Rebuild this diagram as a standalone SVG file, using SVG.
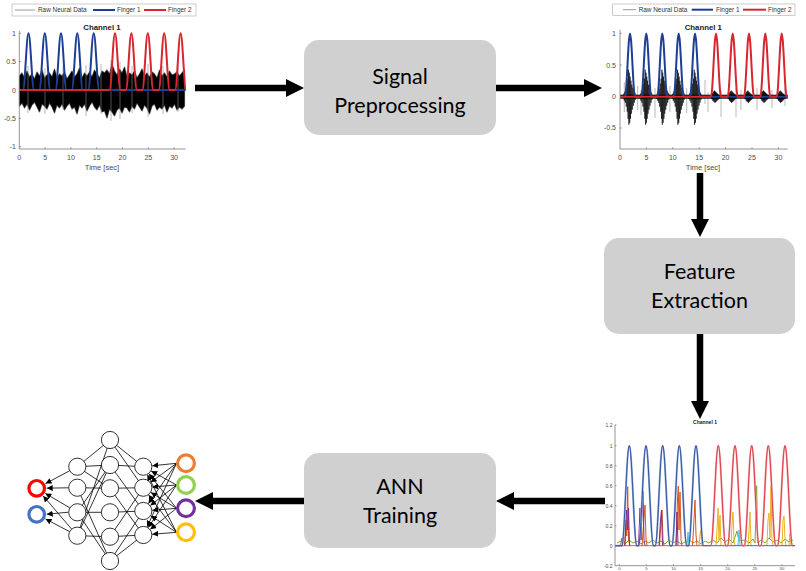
<svg xmlns="http://www.w3.org/2000/svg" width="806" height="571" viewBox="0 0 806 571">
<style>
.box{fill:#d0d0d0}
.bt{font-family:Lato,"Open Sans","Liberation Sans",sans-serif;font-size:21.5px;fill:#000;text-anchor:middle}
.ax{fill:none;stroke:#7a7a7a;stroke-width:0.8}
.tk{font-family:"Liberation Sans",Arial,sans-serif;font-size:7px;fill:#4d4d4d}
.tk3{font-family:"Liberation Sans",Arial,sans-serif;font-size:5px;fill:#4d4d4d}
.tl{font-family:"Liberation Sans",Arial,sans-serif;font-size:7.8px;font-weight:bold;fill:#1a1a1a;text-anchor:middle}
.lg{font-family:"Liberation Sans",Arial,sans-serif;font-size:6.4px;fill:#333}
.f1{fill:none;stroke:#1c3f94;stroke-width:2}
.f2{fill:none;stroke:#d7262e;stroke-width:2}
.gs{fill:none;stroke:#8a8a8a;stroke-width:0.6}
.arrow{stroke:#000;stroke-width:6.5;fill:none;marker-end:url(#ah)}
.nl{stroke:#000;stroke-width:0.8;fill:none}
.na{stroke:#000;stroke-width:0.8;fill:none;marker-end:url(#sa)}
.hn{fill:#fff;stroke:#000;stroke-width:0.8}
.io{fill:#fff;stroke-width:3.2}
</style>
<defs>
<marker id="ah" markerUnits="userSpaceOnUse" markerWidth="18" markerHeight="18" viewBox="0 0 18 18" refX="8" refY="9" orient="auto"><path d="M0,0 L18,9 L0,18 z" fill="#000"/></marker>
<marker id="sa" markerUnits="userSpaceOnUse" markerWidth="6" markerHeight="6" viewBox="0 0 6 6" refX="6" refY="3" orient="auto"><path d="M0,0 L6,3 L0,6 z" fill="#000"/></marker>
<path id="burst" fill="none" stroke="#000" stroke-width="0.6" d="M-7,0 L-6.5,-1.5 L-6,2 L-5.5,-3 L-5,4 L-4.5,-5 L-4,6 L-3.5,-8 L-3,10 L-2.5,-13 L-2,15 L-1.6,-18 L-1.2,22 L-0.8,-27 L-0.4,28 L0,-24 L0.4,26 L0.8,-20 L1.2,22 L1.6,-16 L2,17 L2.5,-12 L3,13 L3.5,-9 L4,9 L4.5,-6 L5,6 L5.5,-4 L6,3 L6.5,-2 L7,0"/>
<path id="burst2" fill="none" stroke="#000" stroke-width="0.8" d="M-5,0 L-4.5,-1 L-4,1.5 L-3.5,-2 L-3,2.5 L-2.5,-3.5 L-2,4 L-1.5,-5 L-1,5 L-0.5,-6 L0,6 L0.5,-5 L1,5 L1.5,-4 L2,4 L2.5,-3 L3,3 L3.5,-2 L4,2 L4.5,-1 L5,0"/>
</defs>
<rect width="806" height="571" fill="#fff"/>

<g id="plot-raw">
<rect x="12" y="4" width="184" height="12" fill="#fff" stroke="#aaa" stroke-width="0.6"/>
<line x1="15" y1="10" x2="35" y2="10" stroke="#999" stroke-width="1"/>
<text class="lg" x="38" y="12.3">Raw Neural Data</text>
<line x1="93" y1="10" x2="115" y2="10" class="f1"/>
<text class="lg" x="117" y="12.3">Finger 1</text>
<line x1="144" y1="10" x2="166" y2="10" class="f2"/>
<text class="lg" x="168" y="12.3">Finger 2</text>
<text class="tl" x="102" y="29.5">Channel 1</text>
<polygon fill="#000" stroke="#777" stroke-width="1.2" stroke-linejoin="round" style="paint-order:stroke" points="19.5,76 22,73 24.5,78 27,71 29.5,77 32,74 34.5,79 37,72 39.5,76 42,70 44.5,78 47,75 49.5,73 52,77 54.5,69 57,78 59.5,74 62,76 64.5,72 67,79 69.5,75 72,71 74.5,77 77,74 79.5,68 82,78 84.5,73 87,76 89.5,72 92,77 94.5,70 97,74 99.5,78 102,71 104.5,73 107,70 109.5,74 112,64 114.5,71 117,75 119.5,69 122,73 124.5,67 127,77 129.5,73 132,75 134.5,71 137,78 139.5,74 142,69 144.5,76 147,73 149.5,77 152,72 154.5,74 157,78 159.5,70 162,76 164.5,73 167,77 169.5,71 172,75 174.5,74 177,72 179.5,76 182,73 184.5,70 184.5,106 182,109 179.5,107 177,110 174.5,104 172,108 169.5,106 167,112 164.5,105 162,109 159.5,107 157,110 154.5,104 152,106 149.5,114 147,108 144.5,105 142,111 139.5,107 137,103 134.5,109 132,106 129.5,112 127,108 124.5,107 122,113 119.5,108 117,110 114.5,116 112,112 109.5,109 107,118 104.5,111 102,112 99.5,105 97,110 94.5,107 92,102 89.5,106 87,111 84.5,104 82,108 79.5,105 77,114 74.5,107 72,109 69.5,103 67,106 64.5,110 62,104 59.5,108 57,105 54.5,113 52,107 49.5,103 47,109 44.5,106 42,104 39.5,112 37,107 34.5,102 32,105 29.5,110 27,104 24.5,108 22,103 19.5,106"/>
<path class="gs" d="M28,66V113 M45,68V114 M63,67V110 M86,65V116 M101,64V114 M111,60V121 M120,62V119 M132,66V113 M148,64V117 M163,66V114 M178,65V112"/>
<path class="f1" d="M19.3,90 H23 c2,0 3.5,-56.7 5.5,-56.7 c2,0 3.5,56.7 5.5,56.7 H39.3 c2,0 3.5,-56.7 5.5,-56.7 c2,0 3.5,56.7 5.5,56.7 H55.5 c2,0 3.5,-56.7 5.5,-56.7 c2,0 3.5,56.7 5.5,56.7 H71.8 c2,0 3.5,-56.7 5.5,-56.7 c2,0 3.5,56.7 5.5,56.7 H88.2 c2,0 3.5,-56.7 5.5,-56.7 c2,0 3.5,56.7 5.5,56.7 H185.5"/>
<path class="f2" d="M19.3,90 H109.5 c2,0 3.5,-56.7 5.5,-56.7 c2,0 3.5,56.7 5.5,56.7 H125.9 c2,0 3.5,-56.7 5.5,-56.7 c2,0 3.5,56.7 5.5,56.7 H142.3 c2,0 3.5,-56.7 5.5,-56.7 c2,0 3.5,56.7 5.5,56.7 H158.7 c2,0 3.5,-56.7 5.5,-56.7 c2,0 3.5,56.7 5.5,56.7 H175.1 c2,0 3.5,-56.7 5.5,-56.7 c2,0 3.5,56.7 5.5,56.7"/>
<path class="ax" d="M19.3,31 V149 H185.5 M19.3,33.3h1.7 M19.3,61.7h1.7 M19.3,90h1.7 M19.3,118.3h1.7 M19.3,146.7h1.7 M45.1,149v-1.7 M70.9,149v-1.7 M96.7,149v-1.7 M122.5,149v-1.7 M148.3,149v-1.7 M174.1,149v-1.7"/>
<g class="tk" text-anchor="end">
<text x="16" y="35.8">1</text><text x="16" y="64.2">0.5</text><text x="16" y="92.5">0</text><text x="16" y="120.8">-0.5</text><text x="16" y="149.2">-1</text>
</g>
<g class="tk" text-anchor="middle">
<text x="19.3" y="159.5">0</text><text x="45.1" y="159.5">5</text><text x="70.9" y="159.5">10</text><text x="96.7" y="159.5">15</text><text x="122.5" y="159.5">20</text><text x="148.3" y="159.5">25</text><text x="174.1" y="159.5">30</text>
<text x="102" y="169.5" style="font-size:7.5px">Time [sec]</text>
</g>
</g>

<g id="plot-filtered">
<rect x="612.7" y="4" width="182.3" height="11.5" fill="#fff" stroke="#aaa" stroke-width="0.6"/>
<line x1="623" y1="9.7" x2="636" y2="9.7" stroke="#999" stroke-width="1"/>
<text class="lg" x="638.7" y="12">Raw Neural Data</text>
<line x1="691.7" y1="9.7" x2="713" y2="9.7" class="f1"/>
<text class="lg" x="716" y="12">Finger 1</text>
<line x1="743" y1="9.7" x2="766" y2="9.7" class="f2"/>
<text class="lg" x="768" y="12">Finger 2</text>
<text class="tl" x="703.3" y="30">Channel 1</text>
<path class="gs" d="M624.3,82V112 M637.7,86V110 M641,90V115 M655,88V118 M670,86V112 M686.7,88V113 M705,80V104 M708,92V112 M721,90V117 M736,88V117 M741,90V110 M757,88V110 M772,90V108 M785,88V106"/>
<rect x="620" y="94.7" width="167.7" height="4" fill="#111"/>
<use href="#burst" x="629.3" y="96.7"/>
<use href="#burst" x="646" y="96.7"/>
<use href="#burst" x="662.7" y="96.7"/>
<use href="#burst" x="678.3" y="96.7"/>
<use href="#burst" x="695" y="96.7"/>
<use href="#burst2" x="715" y="96.7"/>
<use href="#burst2" x="731.7" y="96.7"/>
<use href="#burst2" x="748.3" y="96.7"/>
<use href="#burst2" x="764" y="96.7"/>
<use href="#burst2" x="780.7" y="96.7"/>
<path class="f1" d="M620,96.7 H625 c1.8,0 3.2,-63.3 5,-63.3 c1.8,0 3.2,63.3 5,63.3 H641.3 c1.8,0 3.2,-63.3 5,-63.3 c1.8,0 3.2,63.3 5,63.3 H657.3 c1.8,0 3.2,-63.3 5,-63.3 c1.8,0 3.2,63.3 5,63.3 H673.7 c1.8,0 3.2,-63.3 5,-63.3 c1.8,0 3.2,63.3 5,63.3 H690 c1.8,0 3.2,-63.3 5,-63.3 c1.8,0 3.2,63.3 5,63.3 H787.7"/>
<path class="f2" d="M620,96.7 H711 c1.8,0 3.2,-63.3 5,-63.3 c1.8,0 3.2,63.3 5,63.3 H727.7 c1.8,0 3.2,-63.3 5,-63.3 c1.8,0 3.2,63.3 5,63.3 H744 c1.8,0 3.2,-63.3 5,-63.3 c1.8,0 3.2,63.3 5,63.3 H760.3 c1.8,0 3.2,-63.3 5,-63.3 c1.8,0 3.2,63.3 5,63.3 H776.7 c1.8,0 3.2,-63.3 5,-63.3 c1.8,0 3.2,63.3 5,63.3 H787.7"/>
<path class="ax" d="M620,30 V149 H787.7 M620,33.3h1.7 M620,65h1.7 M620,96.7h1.7 M620,128h1.7 M646.4,149v-1.7 M672.8,149v-1.7 M699.2,149v-1.7 M725.6,149v-1.7 M752,149v-1.7 M778.4,149v-1.7"/>
<g class="tk" text-anchor="end">
<text x="616" y="35.8">1</text><text x="616" y="67.5">0.5</text><text x="616" y="99.2">0</text><text x="616" y="130.2">-0.5</text>
</g>
<g class="tk" text-anchor="middle">
<text x="620" y="159.5">0</text><text x="646.4" y="159.5">5</text><text x="672.8" y="159.5">10</text><text x="699.2" y="159.5">15</text><text x="725.6" y="159.5">20</text><text x="752" y="159.5">25</text><text x="778.4" y="159.5">30</text>
<text x="703" y="170" style="font-size:7.5px">Time [sec]</text>
</g>
</g>

<g id="plot-features">
<text class="tl" x="705" y="423.5" style="font-size:5px">Channel 1</text>
<path fill="none" stroke="#77AC30" stroke-width="1" d="M617,543 L621,541 L625,544 L629,540 L633,543 L637,541 L641,544 L645,541 L649,543 L653,540 L657,543 L661,541 L665,544 L669,540 L673,543 L677,541 L681,544 L685,542 L689,540 L693,543 L697,541 L701,544 L705,541 L709,543 L713,540 L717,543 L721,538 L725,542 L729,539 L733,543 L737,531 L739,541 L745,540 L749,543 L753,539 L755,543 L756.7,485.7 L757.5,543 L761,540 L765,543 L769,538 L773,542 L777,540 L781,543 L785,539 L789,542 L793,540"/>
<path fill="none" stroke="#D95319" stroke-width="1" d="M620.5,545.7 L621.7,538 L622.7,545.7 M624.5,545.7 L626,520 L626.8,536 L627.7,486.7 L628.6,540 L630,545.7 M642,545.7 L643.5,525 L645,505 L646,538 L647,545.7 M659.5,545.7 L661,522 L662,510 L663,540 L664,545.7 M676,545.7 L677.5,500 L678.3,486 L679,530 L680,492 L681,540 L682,545.7 M692.5,545.7 L694,520 L695,500 L696,535 L697,545.7"/>
<path fill="none" stroke="#7E2F8E" stroke-width="1" d="M625,545.7 L626.5,510 L627.5,530 L628.5,508 L629.5,545.7 M638.5,545.7 L640,508 L641,540 L642,512 L643,491 L644,540 L645,545.7 M659,545.7 L660.5,520 L661.5,510 L662.5,545.7 M676,545.7 L677,512 L678,545.7"/>
<path fill="none" stroke="#EDB120" stroke-width="1" d="M699,545.7 L700.5,530 L702,545.7 M716,545.7 L717,530 L718,508 L719,540 L720,515 L721,545.7 M731,545.7 L732,525 L733,512 L734,540 L735,545.7 M748,545.7 L749,530 L750,512 L751,545.7 M767,545.7 L768,520 L769,513 L770,538 L771,486 L772,540 L773,545.7 M782,545.7 L783,520 L784,516 L785,540 L786,545.7 M789,545.7 L790,533 L791,545.7"/>
<path fill="none" stroke="#4DBEEE" stroke-width="1" d="M687,545.7 L688,532 L689,545.7 M738,545.7 L739,530 L740,545.7"/>
<path fill="none" stroke="#8fa8d8" stroke-width="2" d="M615,545.7 H621.8 c2.7,0 4.8,-100 7.5,-100 c2.7,0 4.8,100 7.5,100 H638.5 c2.7,0 4.8,-100 7.5,-100 c2.7,0 4.8,100 7.5,100 H655.2 c2.7,0 4.8,-100 7.5,-100 c2.7,0 4.8,100 7.5,100 H671.8 c2.7,0 4.8,-100 7.5,-100 c2.7,0 4.8,100 7.5,100 H688.5 c2.7,0 4.8,-100 7.5,-100 c2.7,0 4.8,100 7.5,100"/>
<path fill="none" stroke="#1c3f94" stroke-width="0.8" d="M615,545.7 H621.8 c2.7,0 4.8,-100 7.5,-100 c2.7,0 4.8,100 7.5,100 H638.5 c2.7,0 4.8,-100 7.5,-100 c2.7,0 4.8,100 7.5,100 H655.2 c2.7,0 4.8,-100 7.5,-100 c2.7,0 4.8,100 7.5,100 H671.8 c2.7,0 4.8,-100 7.5,-100 c2.7,0 4.8,100 7.5,100 H688.5 c2.7,0 4.8,-100 7.5,-100 c2.7,0 4.8,100 7.5,100 H795"/>
<path fill="none" stroke="#f0a0a6" stroke-width="2" d="M710.8,545.7 c2.7,0 4.8,-100 7.5,-100 c2.7,0 4.8,100 7.5,100 H727.5 c2.7,0 4.8,-100 7.5,-100 c2.7,0 4.8,100 7.5,100 H744.2 c2.7,0 4.8,-100 7.5,-100 c2.7,0 4.8,100 7.5,100 H760.8 c2.7,0 4.8,-100 7.5,-100 c2.7,0 4.8,100 7.5,100 H777.5 c2.7,0 4.8,-100 7.5,-100 c2.7,0 4.8,100 7.5,100"/>
<path fill="none" stroke="#d7262e" stroke-width="0.8" d="M615,545.7 H710.8 c2.7,0 4.8,-100 7.5,-100 c2.7,0 4.8,100 7.5,100 H727.5 c2.7,0 4.8,-100 7.5,-100 c2.7,0 4.8,100 7.5,100 H744.2 c2.7,0 4.8,-100 7.5,-100 c2.7,0 4.8,100 7.5,100 H760.8 c2.7,0 4.8,-100 7.5,-100 c2.7,0 4.8,100 7.5,100 H777.5 c2.7,0 4.8,-100 7.5,-100 c2.7,0 4.8,100 7.5,100 H795"/>
<path class="ax" d="M615,425 V565.7 H795 M615,425h1.5 M615,445.7h1.5 M615,465.7h1.5 M615,485.7h1.5 M615,505.7h1.5 M615,525.7h1.5 M615,545.7h1.5 M619.3,565.7v-1.5 M646.4,565.7v-1.5 M673.5,565.7v-1.5 M700.6,565.7v-1.5 M727.7,565.7v-1.5 M754.8,565.7v-1.5 M781.9,565.7v-1.5"/>
<g class="tk3" text-anchor="end">
<text x="612.5" y="426.8">1.2</text><text x="612.5" y="447.5">1</text><text x="612.5" y="467.5">0.8</text><text x="612.5" y="487.5">0.6</text><text x="612.5" y="507.5">0.4</text><text x="612.5" y="527.5">0.2</text><text x="612.5" y="547.5">0</text><text x="612.5" y="567.5">-0.2</text>
</g>
<g class="tk3" text-anchor="middle" style="font-size:4.2px">
<text x="619.3" y="569.8">0</text><text x="646.4" y="569.8">5</text><text x="673.5" y="569.8">10</text><text x="700.6" y="569.8">15</text><text x="727.7" y="569.8">20</text><text x="754.8" y="569.8">25</text><text x="781.9" y="569.8">30</text>
</g>
</g>

<g id="box-preprocessing">
<rect class="box" x="304" y="40" width="192" height="95" rx="15"/>
<text class="bt" x="400" y="84">Signal</text>
<text class="bt" x="400" y="113">Preprocessing</text>
</g>
<g id="box-feature">
<rect class="box" x="604" y="238" width="191" height="96" rx="15"/>
<text class="bt" x="699.5" y="279">Feature</text>
<text class="bt" x="699.5" y="308">Extraction</text>
</g>
<g id="box-ann">
<rect class="box" x="304" y="453" width="192" height="95" rx="15"/>
<text class="bt" x="400" y="494">ANN</text>
<text class="bt" x="400" y="523">Training</text>
</g>

<g id="ann-network">
<path class="nl" d="M77.3,466.7L110,440 M77.3,466.7L110,465 M77.3,466.7L110,488.3 M77.3,487.7L110,488.3 M77.3,487.7L110,561 M77.3,512.3L110,512.3 M77.3,512.3L110,561 M77.3,512.3L110,465 M77.3,535.7L110,440 M77.3,535.7L110,465 M77.3,535.7L110,536.7 M110,440L143.3,466.7 M110,440L143.3,487.7 M110,465L143.3,466.7 M110,465L143.3,511 M110,488.3L143.3,487.7 M110,488.3L143.3,535 M110,512.3L143.3,511 M110,536.7L143.3,487.7 M110,536.7L143.3,535 M110,561L143.3,511 M110,561L143.3,535"/>
<line class="na" x1="176.5" y1="463.3" x2="152.25" y2="465.78"/>
<line class="na" x1="176.5" y1="463.3" x2="150.55" y2="482.37"/>
<line class="na" x1="176.5" y1="463.3" x2="148.44" y2="503.61"/>
<line class="na" x1="176.5" y1="463.3" x2="147.08" y2="526.83"/>
<line class="na" x1="176.5" y1="485" x2="151.18" y2="471.05"/>
<line class="na" x1="176.5" y1="485" x2="152.27" y2="486.97"/>
<line class="na" x1="176.5" y1="485" x2="150.39" y2="505.45"/>
<line class="na" x1="176.5" y1="485" x2="148.28" y2="527.5"/>
<line class="na" x1="176.5" y1="508.3" x2="148.92" y2="473.74"/>
<line class="na" x1="176.5" y1="508.3" x2="150.95" y2="492.45"/>
<line class="na" x1="176.5" y1="508.3" x2="152.27" y2="510.27"/>
<line class="na" x1="176.5" y1="508.3" x2="150.31" y2="529.36"/>
<line class="na" x1="176.5" y1="532.3" x2="147.37" y2="474.73"/>
<line class="na" x1="176.5" y1="532.3" x2="148.67" y2="494.92"/>
<line class="na" x1="176.5" y1="532.3" x2="150.88" y2="515.87"/>
<line class="na" x1="176.5" y1="532.3" x2="152.27" y2="534.27"/>
<line class="na" x1="69.62" y1="470.79" x2="45.53" y2="483.6"/>
<line class="na" x1="68.6" y1="487.8" x2="46.7" y2="488.15"/>
<line class="na" x1="69.81" y1="507.87" x2="45.31" y2="493.39"/>
<line class="na" x1="71.64" y1="529.09" x2="43.21" y2="495.9"/>
<line class="na" x1="68.6" y1="512.2" x2="46.7" y2="514.2"/>
<line class="na" x1="69.6" y1="531.65" x2="45.55" y2="518.96"/>
<circle class="hn" cx="77.3" cy="466.7" r="8.6"/>
<circle class="hn" cx="77.3" cy="487.7" r="8.6"/>
<circle class="hn" cx="77.3" cy="512.3" r="8.6"/>
<circle class="hn" cx="77.3" cy="535.7" r="8.6"/>
<circle class="hn" cx="110" cy="440" r="8.6"/>
<circle class="hn" cx="110" cy="465" r="8.6"/>
<circle class="hn" cx="110" cy="488.3" r="8.6"/>
<circle class="hn" cx="110" cy="512.3" r="8.6"/>
<circle class="hn" cx="110" cy="536.7" r="8.6"/>
<circle class="hn" cx="110" cy="561" r="8.6"/>
<circle class="hn" cx="143.3" cy="466.7" r="8.6"/>
<circle class="hn" cx="143.3" cy="487.7" r="8.6"/>
<circle class="hn" cx="143.3" cy="511" r="8.6"/>
<circle class="hn" cx="143.3" cy="535" r="8.6"/>
<circle class="io" cx="36.7" cy="488.3" r="7.8" stroke="#ff0000"/>
<circle class="io" cx="36.7" cy="514.3" r="7.8" stroke="#4472c4"/>
<circle class="io" cx="186" cy="463.3" r="8.4" stroke="#ed7d31"/>
<circle class="io" cx="186" cy="485" r="8.4" stroke="#92d050"/>
<circle class="io" cx="186" cy="508.3" r="8.4" stroke="#7030a0"/>
<circle class="io" cx="186" cy="532.3" r="8.4" stroke="#ffc000"/>
</g>

<g id="connectors">
<line class="arrow" x1="195" y1="88" x2="294" y2="88"/>
<line class="arrow" x1="496" y1="88" x2="592" y2="88"/>
<line class="arrow" x1="700" y1="173" x2="700" y2="227"/>
<line class="arrow" x1="700" y1="334" x2="700" y2="409"/>
<line class="arrow" x1="605" y1="501" x2="506" y2="501"/>
<line class="arrow" x1="304" y1="501" x2="205" y2="501"/>
</g>
</svg>
